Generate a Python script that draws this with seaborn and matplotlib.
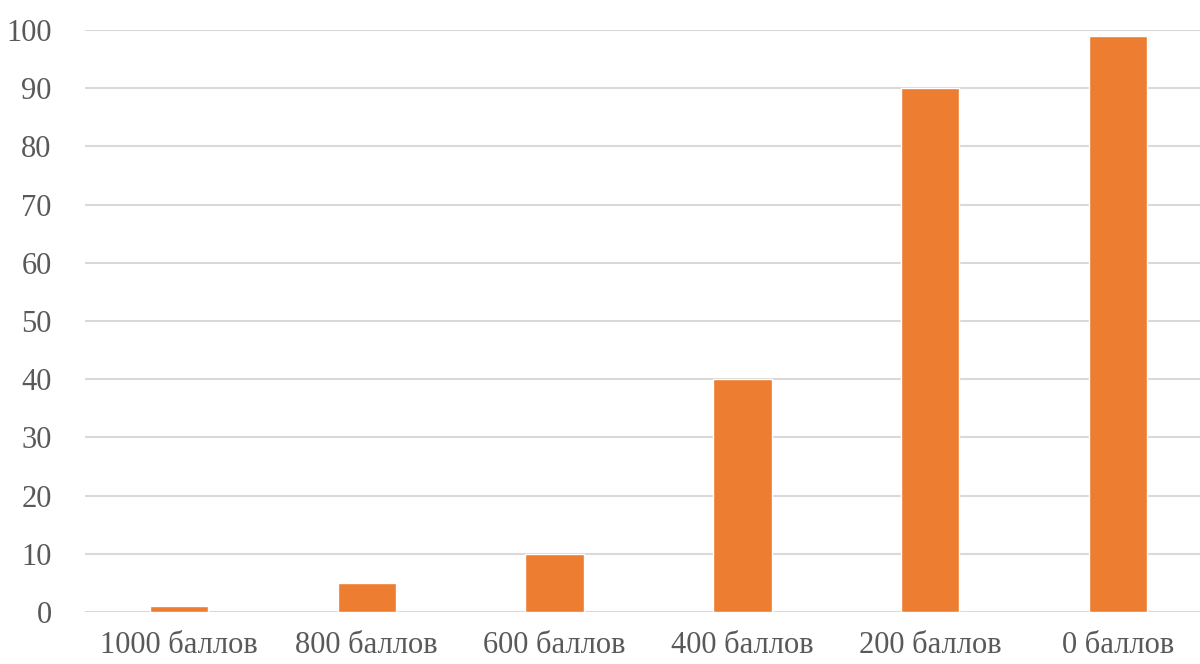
import matplotlib
matplotlib.use("Agg")
import matplotlib.pyplot as plt
import seaborn as sns
import pandas as pd

# === DATA ===
categories = ["1000 баллов", "800 баллов", "600 баллов", "400 баллов", "200 баллов", "0 баллов"]
values = [1, 5, 10, 40, 90, 99]
yticks = [0, 10, 20, 30, 40, 50, 60, 70, 80, 90, 100]

sns.set_theme(style="white")
plt.rcParams['font.family'] = ['Liberation Serif', 'DejaVu Serif']

df = pd.DataFrame({"cat": categories, "val": values})

fig = plt.figure(figsize=(12, 6.64), dpi=100)
ax = fig.add_axes([85 / 1200, 1 - 612 / 664, 1127 / 1200, 582 / 664])

sns.barplot(data=df, x="cat", y="val", color="#ED7D31", width=0.31,
            saturation=1, ax=ax, zorder=3)

ax.set_ylim(0, 100)
ax.set_xlim(-0.5, 5.5)
ax.set_yticks(yticks)
ax.yaxis.grid(True, color="#d9d9d9", linewidth=1.5, zorder=0)
ax.set_axisbelow(True)
for s in ax.spines.values():
    s.set_visible(False)

ax.set_xlabel("")
ax.set_ylabel("")
ax.tick_params(axis="both", length=0, labelsize=22, colors="#595959")
ax.tick_params(axis="y", pad=24)
ax.tick_params(axis="x", pad=14)

fig.savefig("out.png", dpi=100)
